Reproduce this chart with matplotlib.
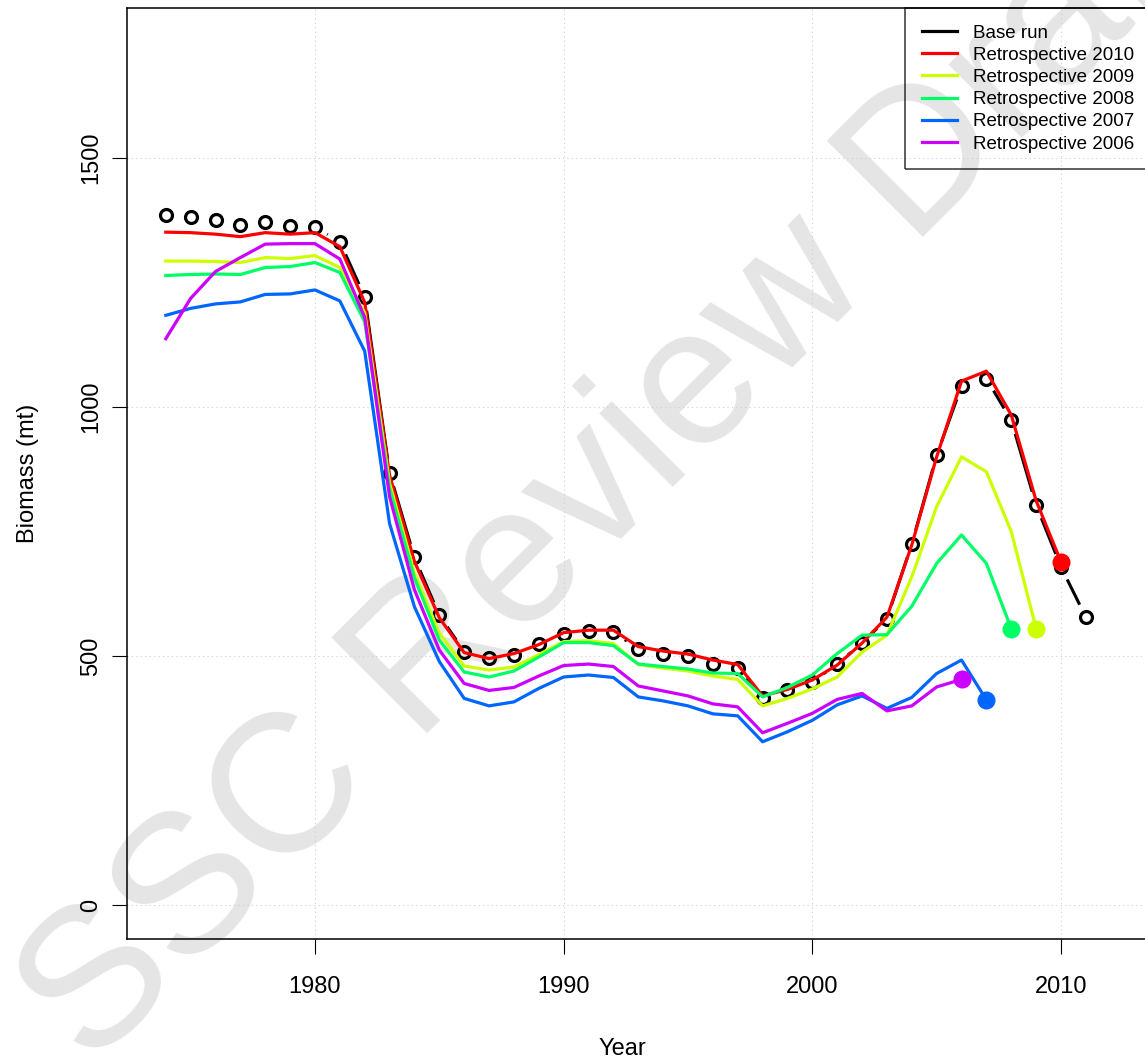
import numpy as np
import matplotlib
matplotlib.use("Agg")
import matplotlib.pyplot as plt
from matplotlib.lines import Line2D
from matplotlib.collections import LineCollection

plt.rcParams["font.family"] = ["Liberation Sans", "DejaVu Sans"]

# Biomass (mt) by year
years = np.arange(1974, 2012)
base_run = [1385, 1381, 1375, 1366, 1371, 1363, 1361, 1332, 1221, 868,
            698, 582, 509, 496, 502, 524, 544, 550, 549, 514,
            505, 500, 485, 477, 416, 431, 448, 484, 526, 575,
            725, 903, 1042, 1057, 973, 803, 679, 578]
retro_2010 = [1351, 1350, 1347, 1342, 1350, 1347, 1350, 1322, 1210, 863,
              690, 577, 507, 495, 505, 523, 547, 552, 552, 519,
              510, 504, 492, 483, 420, 433, 452, 482, 526, 578,
              723, 900, 1052, 1072, 984, 812, 689]
retro_2009 = [1293, 1293, 1292, 1290, 1300, 1298, 1304, 1280, 1189, 847,
              667, 546, 480, 472, 478, 503, 529, 531, 525, 483,
              476, 470, 460, 453, 400, 415, 434, 458, 508, 542,
              659, 800, 900, 870, 750, 555]
retro_2008 = [1264, 1266, 1267, 1266, 1280, 1282, 1290, 1270, 1171, 837,
              657, 532, 468, 458, 470, 498, 527, 527, 521, 484,
              479, 474, 466, 465, 418, 437, 462, 505, 542, 543,
              600, 686, 743, 686, 555]
retro_2007 = [1184, 1198, 1207, 1211, 1226, 1227, 1235, 1213, 1112, 766,
              599, 489, 415, 400, 408, 435, 458, 462, 457, 418,
              410, 400, 384, 380, 328, 348, 371, 402, 420, 395,
              417, 465, 492, 412]
retro_2006 = [1137, 1218, 1272, 1300, 1327, 1328, 1328, 1297, 1180, 820,
              633, 512, 445, 431, 437, 460, 481, 484, 479, 440,
              430, 420, 404, 398, 346, 365, 385, 413, 425, 390,
              400, 438, 453]

retros = [retro_2010, retro_2009, retro_2008, retro_2007, retro_2006]
retro_labels = ["Retrospective 2010", "Retrospective 2009", "Retrospective 2008",
                "Retrospective 2007", "Retrospective 2006"]
retro_colors = ["#FF0000", "#CCFF00", "#00FF66", "#0066FF", "#CC00FF"]

x_ticks = [1980, 1990, 2000, 2010]
y_ticks = [0, 500, 1000, 1500]


def gapped_segments(ax, x, y, gap_px):
    """Line pieces between points with a gap round each point (like R type='b')."""
    pts = ax.transData.transform(np.column_stack([x, y]))
    inv = ax.transData.inverted()
    segs = []
    for p0, p1 in zip(pts[:-1], pts[1:]):
        d = np.hypot(*(p1 - p0))
        if d <= 2 * gap_px:
            continue
        u = (p1 - p0) / d
        segs.append(inv.transform(np.array([p0 + u * gap_px, p1 - u * gap_px])))
    return segs


fig = plt.figure(figsize=(11.45, 10.63), dpi=100)
ax = fig.add_axes([0.1109, 0.11665, 0.9026, 0.87582])
ax.set_facecolor("none")
ax.set_xlim(1972.44, 2014)
ax.set_ylim(-68, 1801)

# watermark behind everything
fig.text(0.538, 0.556, "SSC Review Draft", fontsize=142, color="#e5e5e5",
         rotation=45, ha="center", va="center", zorder=-10)

ax.grid(True, color="#d0d0d0", linestyle=(0, (1, 3)), linewidth=0.8)
ax.set_axisbelow(True)

# base run: open circles joined by gapped lines
lc = LineCollection(gapped_segments(ax, years, base_run, 14), colors="black",
                    linewidths=2.2, zorder=2)
ax.add_collection(lc)
ax.plot(years, base_run, linestyle="none", marker="o", markersize=8.6,
        markerfacecolor="none", markeredgecolor="black", markeredgewidth=2.3,
        zorder=2)

for vals, col in zip(retros, retro_colors):
    yrs = years[:len(vals)]
    ax.plot(yrs, vals, color=col, linewidth=2.3, zorder=3)
    ax.plot(yrs[-1], vals[-1], marker="o", markersize=13, color=col,
            markeredgewidth=0, zorder=3)

ax.set_xticks(x_ticks)
ax.set_yticks(y_ticks)
ax.tick_params(direction="out", length=10.8, width=0.8, labelsize=17)
ax.tick_params(axis="x", pad=15.5)
ax.tick_params(axis="y", pad=7)
for lbl in ax.get_yticklabels():
    lbl.set_rotation(90)
    lbl.set_va("center")
for s in ax.spines.values():
    s.set_linewidth(1.1)

ax.set_xlabel("Year", fontsize=17)
ax.set_ylabel("Biomass (mt)", fontsize=17)
ax.xaxis.set_label_coords(0.479, -0.1063)
ax.yaxis.set_label_coords(-0.0958, 0.5)
ax.yaxis.label.set_va("center")

handles = [Line2D([], [], color="black", linewidth=2.3)]
handles += [Line2D([], [], color=c, linewidth=2.3) for c in retro_colors]
leg = ax.legend(handles, ["Base run"] + retro_labels, loc="upper left",
                bbox_to_anchor=(905 / 1145, 1 - 8 / 1063),
                bbox_transform=fig.transFigure, borderaxespad=0,
                fontsize=13.5, fancybox=False, edgecolor="black",
                handlelength=1.87, handletextpad=0.9, borderpad=0.88,
                labelspacing=0.27)
leg.get_frame().set_facecolor("none")
leg.get_frame().set_linewidth(1.1)

fig.savefig("out.png", dpi=100)
